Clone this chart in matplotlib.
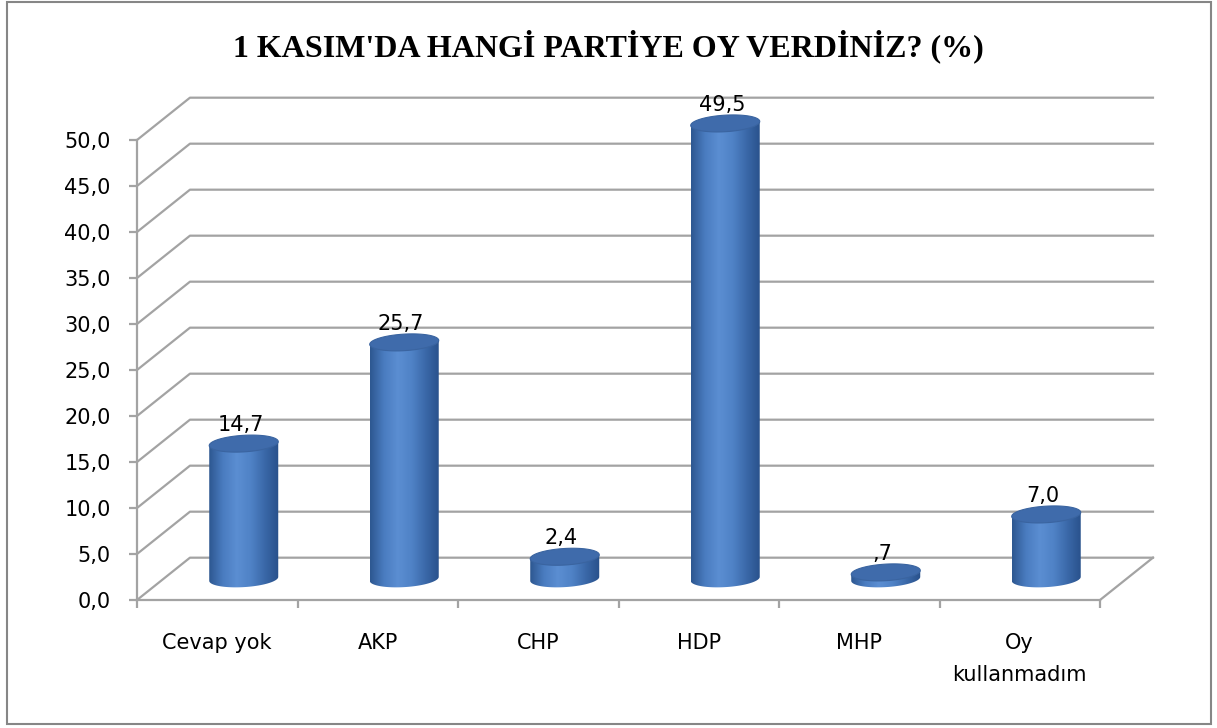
import numpy as np
import matplotlib.pyplot as plt
from matplotlib.patches import PathPatch, Polygon, Rectangle
from matplotlib.path import Path
from matplotlib.colors import LinearSegmentedColormap

plt.rcParams["font.family"] = ["DejaVu Sans"]

W, H = 1217, 728

# data
categories = ["Cevap yok", "AKP", "CHP", "HDP", "MHP", "Oy\nkullanmadım"]
values     = [14.7, 25.7, 2.4, 49.5, 0.7, 7.0]
yticks     = [0, 5, 10, 15, 20, 25, 30, 35, 40, 45, 50]
title      = "1 KASIM'DA HANGİ PARTİYE OY VERDİNİZ? (%)"

GRID  = "#A3A3A3"
TOPC  = "#3F6BAB"
DX, DY = 0.33, 4.6      # depth of the 3d box (category units, percent)
BAR_W  = 0.43
ELL_H  = 1.8
SHEAR  = 1.0            # tilt of the cylinder ends (percent per category unit)

cyl = LinearSegmentedColormap.from_list(
    "cyl", ["#2D5790", "#4A7CC0", "#5B8ED2", "#4F82C6", "#3A68A8", "#28508A"])


def fmt_tick(v):
    return f"{v:.1f}".replace(".", ",")


def fmt_val(v):
    s = f"{v:.1f}".replace(".", ",")
    return s[1:] if s.startswith("0,") else s


def ellipse_pts(cx, cy, t):
    x = cx + BAR_W / 2 * np.cos(t)
    y = cy + ELL_H / 2 * np.sin(t) + SHEAR * (x - cx)
    return np.column_stack([x, y])


fig = plt.figure(figsize=(W / 100, H / 100), dpi=100)
ax = fig.add_axes([137 / W, 1 - 600 / H, (1160 - 137) / W, (600 - 95) / H])
xmax = -0.5 + (1160 - 137) / 160.5
ymax = (600 - 95) / 9.2

# back wall grid + floor
for v in yticks:
    ax.plot([-0.5, -0.5 + DX, 5.5 + DX], [v, v + DY, v + DY],
            color=GRID, lw=1.6, clip_on=False, zorder=1)
ax.plot([5.5, 5.5 + DX], [0, DY], color=GRID, lw=1.6, clip_on=False, zorder=1)

# cylinders
e = ELL_H / 2
grad = np.linspace(0, 1, 256).reshape(1, -1)
for i, v in enumerate(values):
    cx = i + DX / 2
    base = DY / 2
    top = base + v
    hw = BAR_W / 2
    arc = ellipse_pts(cx, base, np.linspace(np.pi, 2 * np.pi, 60))
    verts = np.vstack([[cx - hw, top - SHEAR * hw], arc,
                       [cx + hw, top + SHEAR * hw], [cx - hw, top - SHEAR * hw]])
    body = PathPatch(Path(verts), fc="none", ec="none")
    ax.add_patch(body)
    im = ax.imshow(grad, extent=[cx - hw, cx + hw, base - e - SHEAR * hw, top + SHEAR * hw],
                   aspect="auto", cmap=cyl, zorder=3, interpolation="bicubic")
    im.set_clip_path(body)
    cap = ellipse_pts(cx, top, np.linspace(0, 2 * np.pi, 120))
    ax.add_patch(Polygon(cap, closed=True, fc=TOPC, ec="#3A64A0", lw=0.8, zorder=4))
    ax.text(cx - 0.02, top + e + 0.5, fmt_val(v), ha="center", va="baseline",
            fontsize=15, zorder=5)

ax.set_xlim(-0.5, xmax)
ax.set_ylim(0, ymax)

# axes
for s in ["top", "right"]:
    ax.spines[s].set_visible(False)
for s in ["left", "bottom"]:
    ax.spines[s].set_color(GRID)
    ax.spines[s].set_linewidth(1.6)
ax.spines["left"].set_bounds(0, 50)
ax.spines["bottom"].set_bounds(-0.5, 5.5)

ax.set_yticks(yticks)
ax.set_yticklabels([fmt_tick(v) for v in yticks])
ax.tick_params(axis="y", length=6, width=1.6, color=GRID, labelsize=15, pad=13)

ax.set_xticks(np.arange(-0.5, 6, 1.0))
ax.set_xticklabels([])
ax.set_xticks(np.arange(6), minor=True)
ax.set_xticklabels(categories, minor=True)
ax.tick_params(axis="x", which="major", length=6, width=1.6, color=GRID)
ax.tick_params(axis="x", which="minor", length=0, labelsize=15, pad=24)
for lab in ax.get_xticklabels(minor=True):
    lab.set_linespacing(1.7)
    lab.set_verticalalignment("top")

fig.text(0.5, 1 - 46 / H, title, ha="center", va="center", fontsize=23,
         fontweight="bold", family=["Liberation Serif", "DejaVu Serif"])

fig.add_artist(Rectangle((7 / W, 1 - 724 / H), (1211 - 7) / W, (724 - 2) / H,
                         transform=fig.transFigure, fill=False,
                         ec="#868686", lw=1.5))

fig.savefig("out.png", dpi=100)
